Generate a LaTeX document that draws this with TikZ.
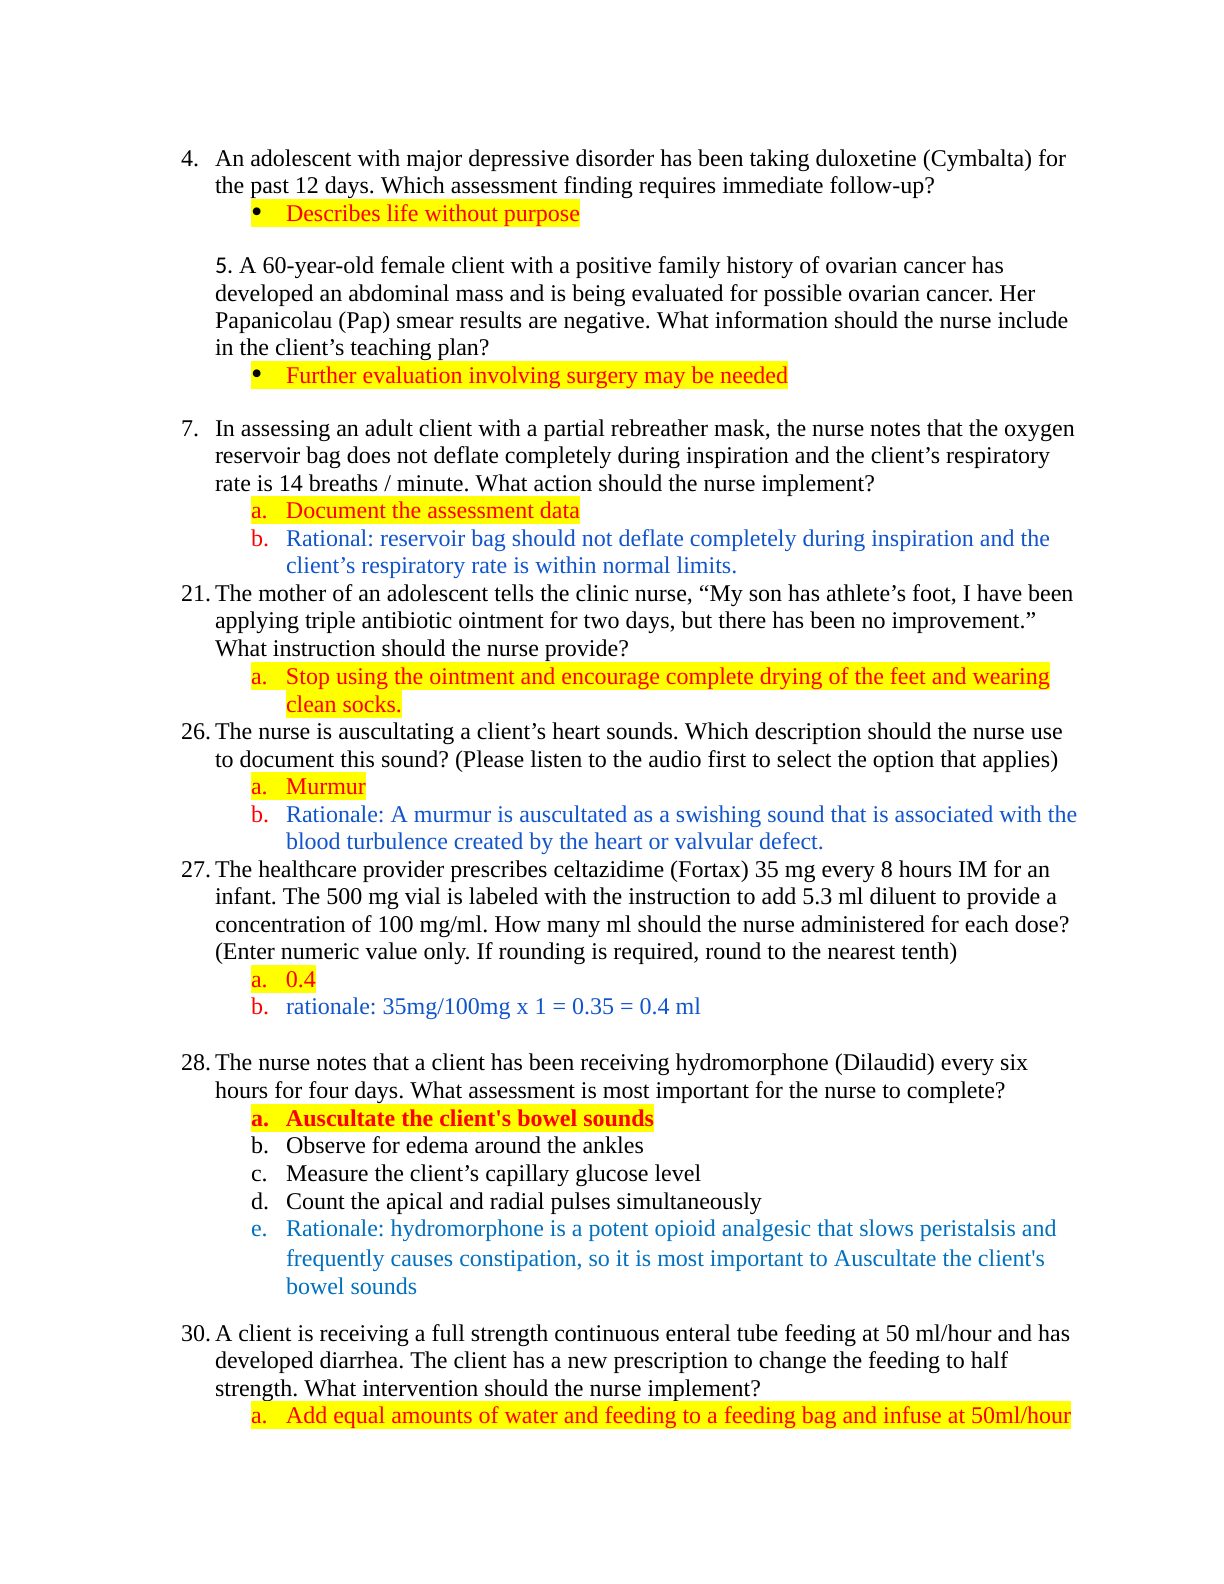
\documentclass[tikz,border=0pt]{standalone}
\usepackage{fontspec}
\setmainfont{Liberation Serif}[Ligatures={TeXOff,CommonOff}]
\newfontfamily\calibrifont{Carlito}
\usepackage{xcolor}
\definecolor{hlyellow}{HTML}{FFFF00}
\definecolor{ansred}{HTML}{FF0000}
\definecolor{ratblue}{HTML}{1155CC}
\definecolor{ratblueb}{HTML}{0070C0}
\newcommand\hlstrut{\rule[-3pt]{0pt}{14pt}}
\newcommand\lab[1]{\makebox[17.5pt][l]{#1}}
\newcommand\bigbul{\textcolor{black}{\raisebox{-0.5pt}{\scalebox{1.35}{•}}}}
\frenchspacing
\tikzset{
  ln/.style={anchor=base west, inner sep=0pt, outer sep=0pt, font=\fontsize{12}{14}\selectfont\frenchspacing},
  hl/.style={ln, fill=hlyellow, text=ansred},
  rat/.style={ln, text=ratblue},
  ratb/.style={ln, text=ratblueb},
  redlab/.style={ln, text=ansred}
}
\begin{document}
\begin{tikzpicture}[x=0.5pt,y=-0.5pt]
\useasboundingbox (0,0) rectangle (1224,1584);
\fill[white] (0,0) rectangle (1224,1584);
% Q4
\node[ln] (n4) at (181,166) {4.};
\node[ln] (q4a) at (215,166) {An adolescent with major depressive disorder has been taking duloxetine (Cymbalta) for};
\node[ln] (q4b) at (215,193) {the past 12 days. Which assessment finding requires immediate follow-up?};
\node[hl] (a4) at (251,221) {\hlstrut\lab{\bigbul}Describes life without purpose};
% Q5
\node[ln] (q5a) at (215,273) {{\calibrifont 5.} A 60-year-old female client with a positive family history of ovarian cancer has};
\node[ln] (q5b) at (215,301) {developed an abdominal mass and is being evaluated for possible ovarian cancer. Her};
\node[ln] (q5c) at (215,328) {Papanicolau (Pap) smear results are negative. What information should the nurse include};
\node[ln] (q5d) at (215,355) {in the client’s teaching plan?};
\node[hl] (a5) at (251,383) {\hlstrut\lab{\bigbul}Further evaluation involving surgery may be needed};
% Q7
\node[ln] (n7) at (181,436) {7.};
\node[ln] (q7a) at (215,436) {In assessing an adult client with a partial rebreather mask, the nurse notes that the oxygen};
\node[ln] (q7b) at (215,463) {reservoir bag does not deflate completely during inspiration and the client’s respiratory};
\node[ln] (q7c) at (215,491) {rate is 14 breaths / minute. What action should the nurse implement?};
\node[hl] (a7) at (251,518) {\hlstrut\lab{a.}Document the assessment data};
\node[redlab] (b7l) at (251,546) {b.};
\node[rat] (b7a) at (286,546) {Rational: reservoir bag should not deflate completely during inspiration and the};
\node[rat] (b7b) at (286,573) {client’s respiratory rate is within normal limits.};
% Q21
\node[ln] (n21) at (181,601) {21.};
\node[ln] (q21a) at (215,601) {The mother of an adolescent tells the clinic nurse, “My son has athlete’s foot, I have been};
\node[ln] (q21b) at (215,628) {applying triple antibiotic ointment for two days, but there has been no improvement.”};
\node[ln] (q21c) at (215,656) {What instruction should the nurse provide?};
\node[hl] (a21a) at (251,684) {\hlstrut\lab{a.}Stop using the ointment and encourage complete drying of the feet and wearing};
\node[hl] (a21b) at (286,712) {\hlstrut clean socks.};
% Q26
\node[ln] (n26) at (181,739) {26.};
\node[ln] (q26a) at (215,739) {The nurse is auscultating a client’s heart sounds. Which description should the nurse use};
\node[ln] (q26b) at (215,767) {to document this sound? (Please listen to the audio first to select the option that applies)};
\node[hl] (a26) at (251,794) {\hlstrut\lab{a.}Murmur};
\node[redlab] (b26l) at (251,822) {b.};
\node[rat] (b26a) at (286,822) {Rationale: A murmur is auscultated as a swishing sound that is associated with the};
\node[rat] (b26b) at (286,849) {blood turbulence created by the heart or valvular defect.};
% Q27
\node[ln] (n27) at (181,877) {27.};
\node[ln] (q27a) at (215,877) {The healthcare provider prescribes celtazidime (Fortax) 35 mg every 8 hours IM for an};
\node[ln] (q27b) at (215,904) {infant. The 500 mg vial is labeled with the instruction to add 5.3 ml diluent to provide a};
\node[ln] (q27c) at (215,932) {concentration of 100 mg/ml. How many ml should the nurse administered for each dose?};
\node[ln] (q27d) at (215,959) {(Enter numeric value only. If rounding is required, round to the nearest tenth)};
\node[hl] (a27) at (251,987) {\hlstrut\lab{a.}0.4};
\node[redlab] (b27l) at (251,1014) {b.};
\node[rat] (b27a) at (286,1014) {rationale: 35mg/100mg x 1 = 0.35 = 0.4 ml};
% Q28
\node[ln] (n28) at (181,1070) {28.};
\node[ln] (q28a) at (215,1070) {The nurse notes that a client has been receiving hydromorphone (Dilaudid) every six};
\node[ln] (q28b) at (215,1098) {hours for four days. What assessment is most important for the nurse to complete?};
\node[hl, font=\fontsize{12}{14}\selectfont\frenchspacing\bfseries] (a28) at (251,1126) {\hlstrut\lab{a.}Auscultate the client's bowel sounds};
\node[ln] (b28l) at (251,1153) {b.};
\node[ln] (b28) at (286,1153) {Observe for edema around the ankles};
\node[ln] (c28l) at (251,1181) {c.};
\node[ln] (c28) at (286,1181) {Measure the client’s capillary glucose level};
\node[ln] (d28l) at (251,1209) {d.};
\node[ln] (d28) at (286,1209) {Count the apical and radial pulses simultaneously};
\node[ratb] (e28l) at (251,1236) {e.};
\node[ratb] (e28a) at (286,1236) {Rationale: hydromorphone is a potent opioid analgesic that slows peristalsis and};
\node[ratb] (e28b) at (286,1266) {frequently causes constipation, so it is most important to Auscultate the client's};
\node[ratb] (e28c) at (286,1294) {bowel sounds};
% Q30
\node[ln] (n30) at (181,1341) {30.};
\node[ln] (q30a) at (215,1341) {A client is receiving a full strength continuous enteral tube feeding at 50 ml/hour and has};
\node[ln] (q30b) at (215,1368) {developed diarrhea. The client has a new prescription to change the feeding to half};
\node[ln] (q30c) at (215,1396) {strength. What intervention should the nurse implement?};
\node[hl] (a30) at (251,1423) {\hlstrut\lab{a.}Add equal amounts of water and feeding to a feeding bag and infuse at 50ml/hour};
\end{tikzpicture}
\end{document}
